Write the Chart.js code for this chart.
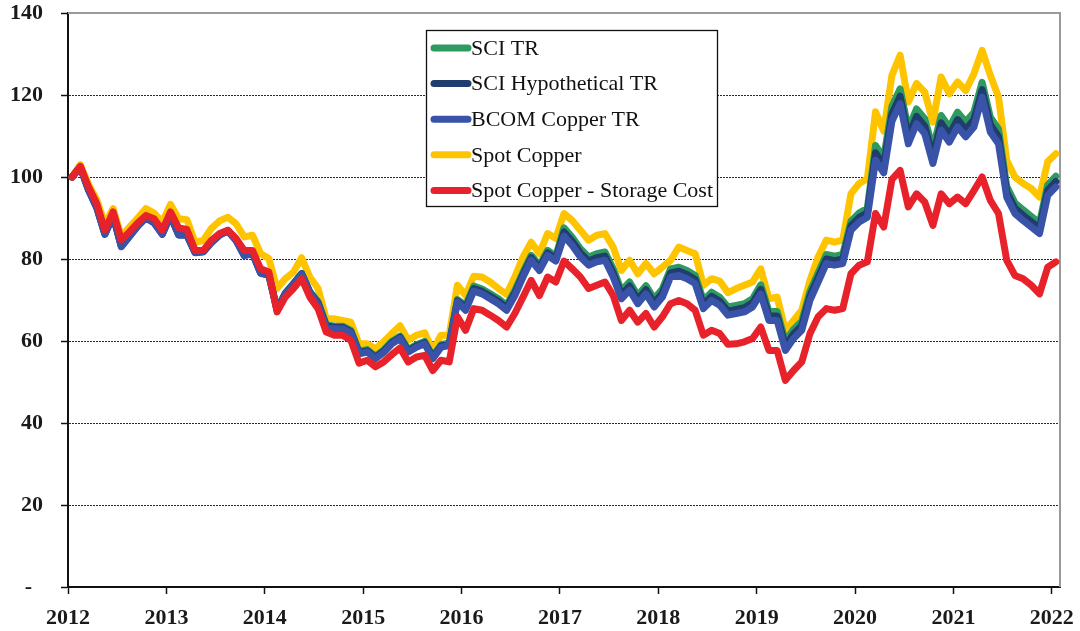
<!DOCTYPE html>
<html>
<head>
<meta charset="utf-8">
<script src="https://cdn.jsdelivr.net/npm/chart.js@4.4.1/dist/chart.umd.min.js"></script>
<style>
  html, body { margin: 0; padding: 0; background: #ffffff; }
  #wrap { position: relative; width: 1080px; height: 631px; }
  canvas { display: block; }
</style>
</head>
<body>
<div id="wrap"><canvas id="c" width="1080" height="631"></canvas></div>
<script>
// Monthly observations, Jan 2012 .. Jan 2022 (index = months since Jan 2012)
const yearLabels = ['2012','2013','2014','2015','2016','2017','2018','2019','2020','2021','2022'];
const seriesNames = ['SCI TR', 'SCI Hypothetical TR', 'BCOM Copper TR', 'Spot Copper', 'Spot Copper - Storage Cost'];

const sciTR = [
  100, 102.5, 97, 92.7, 86.2, 90.7, 83.2, 85.7, 88.2, 90.2, 89, 86.2, 90.7, 86, 86, 81.7, 81.9, 84.2, 86, 87,
  84.7, 81, 81.5, 76.7, 76.2, 67.7, 71.7, 74, 76.5, 72,
  69.6, 64, 63.6, 63.6, 62.6, 57.5, 57.9, 56.3, 57.8, 59.9, 61.2, 57.9, 59.1, 59.9, 56.3, 59.1, 59.5, 70.1,
  68.7, 73.4, 72.7, 71.5, 70.3, 68.7, 72.3, 76.8, 80.9, 78.4, 82.1, 80.7,
  87.6, 85.3, 82.5, 80.5, 81.3, 81.7, 77.6, 72.3, 74.4, 71.1, 73.5, 70.3, 72.7, 77.6, 78, 77.2, 76, 69.9, 71.9, 70.7, 68.3, 68.7, 69.1, 70.3,
  73.7, 67.2, 67.2, 59.9, 62.8, 64.8, 72.1, 76.6, 81.1, 80.7, 81.1, 89.2, 91.2, 92.4,
  107.7, 104.6, 117.2, 121.5, 111.7, 116.6, 114.2, 106.9, 115, 112.1, 115.8, 113.4, 115.8, 123.1, 114.6, 111.7,
  97.7, 93.7, 92, 90.4, 88.8, 98.1, 100.2
];
const sciHypTR = [
  100, 102.4, 96.9, 92.6, 86.1, 90.6, 83.1, 85.6, 88.1, 90.1, 88.9, 86.1, 90.6, 85.9, 85.9, 81.6, 81.8, 84.1, 85.9, 86.9,
  84.6, 80.9, 81.4, 76.6, 76.1, 67.6, 71.6, 73.9, 76.4, 71.9,
  69.3, 63.7, 63.3, 63.3, 62.3, 57.2, 57.6, 56, 57.5, 59.6, 60.9, 57.6, 58.8, 59.6, 56, 58.8, 59.2, 69.8,
  68.1, 72.8, 72.1, 70.9, 69.7, 68.1, 71.7, 76.2, 80.3, 77.8, 81.5, 80.1,
  86.6, 84.3, 81.5, 79.5, 80.3, 80.7, 76.6, 71.3, 73.4, 70.1, 72.5, 69.3, 71.7, 76.6, 77, 76.2, 75, 68.9, 70.9, 69.7, 67.3, 67.7, 68.1, 69.3,
  72.6, 66.1, 66.1, 58.8, 61.7, 63.7, 71, 75.5, 80, 79.6, 80, 88.1, 90.1, 91.3,
  105.9, 102.8, 115.4, 119.7, 109.9, 114.8, 112.4, 105.1, 113.2, 110.3, 114, 111.6, 114, 121.3, 112.8, 109.9,
  96.4, 92.4, 90.7, 89.1, 87.5, 96.8, 98.9
];
const bcomTR = [
  100, 102.3, 96.8, 92.5, 86, 90.5, 83, 85.5, 88, 90, 88.8, 86, 90.5, 85.8, 85.8, 81.5, 81.7, 84, 85.8, 86.8,
  84.5, 80.8, 81.3, 76.5, 76, 67.5, 71.5, 73.8, 76.3, 71.8,
  69, 63.4, 63, 63, 62, 56.9, 57.3, 55.7, 57.2, 59.3, 60.6, 57.3, 58.5, 59.3, 55.7, 58.5, 58.9, 69.5,
  67.5, 72.2, 71.5, 70.3, 69.1, 67.5, 71.1, 75.6, 79.7, 77.2, 80.9, 79.5,
  85.6, 83.3, 80.5, 78.5, 79.3, 79.7, 75.6, 70.3, 72.4, 69.1, 71.5, 68.3, 70.7, 75.6, 76, 75.2, 74, 67.9, 69.9, 68.7, 66.3, 66.7, 67.1, 68.3,
  71.5, 65, 65, 57.7, 60.6, 62.6, 69.9, 74.4, 78.9, 78.5, 78.9, 87, 89, 90.2,
  104.1, 101, 113.6, 117.9, 108.1, 113, 110.6, 103.3, 111.4, 108.5, 112.2, 109.8, 112.2, 119.5, 111, 108.1,
  95.1, 91.1, 89.4, 87.8, 86.2, 95.5, 97.6
];
const spotCopper = [
  100, 103, 98.2, 94.5, 88.5, 92.3, 85.5, 87.8, 90, 92.3, 91.2, 89, 93.3, 89.8, 89.6, 84.1, 84.5, 87.5, 89.3, 90.2,
  88.6, 85.4, 85.8, 81.3, 80.1, 72.8, 75.2, 76.8, 80.3, 75.6,
  72.8, 65.4, 65.4, 65, 64.6, 59.3, 59.3, 58.1, 59.8, 61.8, 63.7, 60.2, 61.4, 62, 57.7, 61.4, 61.4, 73.6,
  71.1, 75.8, 75.6, 74.4, 72.8, 71.4, 75.6, 80.5, 84.1, 81.3, 86.2, 85,
  91.1, 89.4, 87, 84.6, 85.8, 86.2, 82.9, 77.2, 79.7, 76.4, 78.9, 76.4, 78, 79.7, 82.9, 82.1, 81.3, 73.6, 75.2, 74.6, 71.8, 72.8, 73.6, 74.4,
  77.6, 70.3, 70.7, 62.6, 65, 67.5, 74.8, 80.5, 84.6, 84.1, 84.6, 95.9, 98.4, 99.6,
  115.9, 111.2, 124.8, 129.7, 118.3, 122.8, 120.7, 113.4, 124.4, 120.3, 123.2, 121.1, 125.2, 130.9, 124.8, 119.5,
  104.1, 100, 98.4, 97.2, 95.1, 103.7, 105.7
];
const spotStorage = [
  100, 102.6, 97.6, 93.5, 87, 91.5, 84.7, 86.6, 88.8, 90.6, 89.8, 87, 91.5, 87.6, 87.2, 82.1, 82.1, 84.6, 86.2, 87,
  85, 82.1, 82.1, 77.6, 76.8, 67.1, 70.7, 72.8, 75.2, 70.7,
  67.9, 62.2, 61.4, 61.4, 60.2, 54.6, 55.3, 53.7, 54.9, 56.7, 58.3, 54.9, 56.1, 56.5, 52.8, 55.3, 54.9, 65.9,
  62.6, 67.9, 67.5, 66.3, 65, 63.4, 66.7, 70.7, 74.8, 71.1, 75.6, 74.4,
  79.5, 77.6, 75.6, 72.8, 73.6, 74.4, 71.1, 65, 67.5, 64.6, 66.7, 63.4, 65.9, 69.1, 69.9, 69.1, 67.5, 61.4, 62.6, 61.8, 59.2, 59.3, 59.8, 60.6,
  63.4, 57.7, 57.7, 50.4, 52.8, 54.9, 61.8, 65.9, 67.9, 67.5, 67.9, 76.4, 78.5, 79.3,
  91.1, 87.8, 99.4, 101.6, 92.7, 95.9, 93.9, 88.2, 95.9, 93.5, 95.1, 93.5, 96.7, 100, 94.3, 91.1,
  79.7, 76, 75.2, 73.6, 71.5, 78, 79.3
];

const seriesValues = [sciTR, sciHypTR, bcomTR, spotCopper, spotStorage];
const seriesColors = ['#2e9a5f', '#1f3d6d', '#3953a8', '#ffc400', '#e8222a'];
const drawOrder = [3, 2, 1, 4, 0]; // lower = drawn on top

const serif = "'Liberation Serif', 'Times New Roman', 'DejaVu Serif', serif";

function toPoints(arr) {
  return arr.map((v, i) => ({ x: i + 0.5, y: v }));
}

const datasets = seriesValues.map((arr, k) => ({
  label: seriesNames[k],
  data: toPoints(arr),
  borderColor: seriesColors[k],
  backgroundColor: seriesColors[k],
  borderWidth: 7,
  pointRadius: 0,
  pointHoverRadius: 0,
  tension: 0,
  borderJoinStyle: 'round',
  borderCapStyle: 'round',
  fill: false,
  order: drawOrder[k]
}));

const framePlugin = {
  id: 'frame',
  beforeDatasetsDraw(chart) {
    const { ctx, chartArea } = chart;
    ctx.save();
    ctx.strokeStyle = '#9a9a9a';
    ctx.lineWidth = 2;
    ctx.beginPath();
    ctx.moveTo(chartArea.left, chartArea.top);
    ctx.lineTo(chartArea.right, chartArea.top);
    ctx.lineTo(chartArea.right, chartArea.bottom);
    ctx.stroke();
    ctx.restore();
  }
};

const boxLegend = {
  id: 'boxLegend',
  afterDatasetsDraw(chart) {
    const { ctx } = chart;
    const x0 = 426.5, y0 = 30.5, w = 291, h = 176;
    ctx.save();
    ctx.fillStyle = '#ffffff';
    ctx.fillRect(x0, y0, w, h);
    ctx.strokeStyle = '#111';
    ctx.lineWidth = 1.3;
    ctx.strokeRect(x0, y0, w, h);
    ctx.font = '22px ' + serif;
    ctx.textBaseline = 'middle';
    ctx.textAlign = 'left';
    chart.data.datasets.forEach((ds, k) => {
      const cy = 48 + k * 35.6;
      ctx.strokeStyle = ds.borderColor;
      ctx.lineWidth = 7;
      ctx.lineCap = 'round';
      ctx.beginPath();
      ctx.moveTo(434, cy);
      ctx.lineTo(468, cy);
      ctx.stroke();
      ctx.fillStyle = '#111';
      ctx.fillText(ds.label, 471, cy + 1);
    });
    ctx.restore();
  }
};

new Chart(document.getElementById('c'), {
  type: 'line',
  data: { datasets },
  plugins: [framePlugin, boxLegend],
  options: {
    responsive: false,
    animation: false,
    devicePixelRatio: 1,
    layout: { padding: { top: 13, right: 20, left: 0, bottom: 0 } },
    plugins: { legend: { display: false }, tooltip: { enabled: false } },
    scales: {
      x: {
        type: 'linear',
        min: 0,
        max: 121,
        afterFit(s) { s.height = 44; s.paddingLeft = 0; s.paddingRight = 0; },
        ticks: {
          stepSize: 12,
          includeBounds: false,
          autoSkip: false,
          maxRotation: 0,
          padding: 11,
          color: '#1a1a1a',
          font: { family: serif, size: 22, weight: 'bold' },
          callback: (v) => yearLabels[Math.round(v / 12)] ?? ''
        },
        grid: { drawOnChartArea: false, drawTicks: true, tickLength: 7, tickColor: '#111', tickWidth: 1.5 },
        border: { display: true, color: '#111', width: 2 }
      },
      y: {
        min: 0,
        max: 140,
        afterFit(s) { s.width = 68; s.paddingTop = 0; s.paddingBottom = 0; },
        ticks: {
          stepSize: 20,
          padding: 18,
          color: '#1a1a1a',
          font: { family: serif, size: 22, weight: 'bold' },
          callback: (v) => v === 0 ? '-  ' : String(v)
        },
        grid: {
          drawOnChartArea: true,
          color: (c) => (c.tick && (c.tick.value === 0 || c.tick.value === 140)) ? 'rgba(0,0,0,0)' : '#2a2a2a',
          lineWidth: 1,
          tickLength: 7,
          tickColor: '#111',
          tickWidth: 1.5
        },
        border: {
          display: true, color: '#111', width: 2,
          dash: (c) => (c.tick ? [2, 1] : [])
        }
      }
    }
  }
});
</script>
</body>
</html>
